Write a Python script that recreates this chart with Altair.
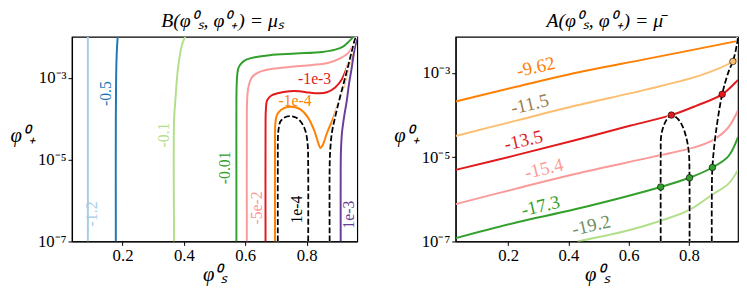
import altair as alt
import pandas as pd

FONT = "Liberation Serif"

# ---------------- shared ticks ----------------
X_TICKS = [0.2, 0.4, 0.6, 0.8]
Y_TICK_EXP = [-7, -5, -3]
Y_TICK_LABELS = ["10⁻⁷", "10⁻⁵", "10⁻³"]

# ---------------- left panel: B(phi_s, phi_+) = mu_s ----------------
L_XDOM = [0.035, 0.965]
L_YDOM = [1e-7, 1e-2]

b_m12_x = [0.087, 0.087]
b_m12_y = [1e-7, 1e-2]
b_m05_x = [0.178, 0.178, 0.179, 0.181, 0.184]
b_m05_y = [1e-7, 1e-4, 1e-3, 4e-3, 1e-2]
b_m01_x = [0.368, 0.368, 0.372, 0.381, 0.394, 0.404]
b_m01_y = [1e-7, 1e-4, 2.8e-4, 1.8e-3, 6.5e-3, 1e-2]
b_m001_x = [0.571, 0.571, 0.571, 0.572, 0.574, 0.578, 0.589, 0.605, 0.632, 0.680,
            0.765, 0.851, 0.893, 0.920, 0.938, 0.952]
b_m001_y = [1e-7, 7e-6, 2.8e-4, 7e-4, 1.22e-3, 1.77e-3, 2.33e-3, 2.8e-3, 3.18e-3, 3.56e-3,
            3.9e-3, 4.28e-3, 4.87e-3, 5.86e-3, 7.73e-3, 1e-2]
b_m5e2_x = [0.605, 0.605, 0.606, 0.610, 0.621, 0.642, 0.680, 0.744, 0.818, 0.872,
            0.909, 0.936, 0.952, 0.959, 0.962]
b_m5e2_y = [1e-7, 4.4e-5, 2.8e-4, 5.8e-4, 1.01e-3, 1.34e-3, 1.61e-3, 1.83e-3, 2.05e-3, 2.33e-3,
            2.96e-3, 4.05e-3, 6.4e-3, 9.3e-3, 1e-2]
b_m1e3_x = [0.666, 0.666, 0.667, 0.671, 0.685, 0.706, 0.744, 0.776, 0.808, 0.840,
            0.866, 0.893, 0.915, 0.931, 0.947, 0.959, 0.964]
b_m1e3_y = [1e-7, 4.4e-5, 1.6e-4, 2.8e-4, 3.68e-4, 4.19e-4, 4.68e-4, 4.68e-4, 4.35e-4, 4.19e-4,
            4.43e-4, 5.8e-4, 9.2e-4, 1.77e-3, 3.7e-3, 7e-3, 1e-2]
b_m1e4_x = [0.697, 0.697, 0.698, 0.703, 0.717, 0.738, 0.760, 0.781, 0.803, 0.824,
            0.838, 0.845, 0.853, 0.866, 0.888, 0.906, 0.923, 0.936, 0.952, 0.963]
b_m1e4_y = [1e-7, 4.4e-5, 7.7e-5, 1.22e-4, 1.66e-4, 1.93e-4, 1.93e-4, 1.66e-4, 1.11e-4, 5.3e-5,
            2.53e-5, 1.92e-5, 2.31e-5, 4.4e-5, 1.11e-4, 2.8e-4, 7e-4, 1.77e-3, 4.4e-3, 9.3e-3]
b_p1e3_x = [0.911, 0.911, 0.912, 0.915, 0.922, 0.931, 0.938, 0.947, 0.955, 0.964]
b_p1e3_y = [1e-7, 7e-6, 1.75e-5, 4.4e-5, 1.11e-4, 2.8e-4, 7e-4, 1.77e-3, 4.4e-3, 9.3e-3]
b_arch_x = [0.706, 0.706, 0.707, 0.710, 0.714, 0.728, 0.749, 0.765, 0.781, 0.795, 0.803, 0.805, 0.805]
b_arch_y = [1e-7, 7e-6, 4.4e-5, 6.4e-5, 8.4e-5, 1.07e-4, 1.15e-4, 1.07e-4, 8.4e-5, 5.3e-5, 2.53e-5, 7e-6, 1e-7]
b_branch_x = [0.875, 0.875, 0.877, 0.882, 0.893, 0.906, 0.920, 0.934, 0.947, 0.959, 0.963]
b_branch_y = [1e-7, 7e-6, 1.75e-5, 4.4e-5, 1.11e-4, 2.8e-4, 7e-4, 1.77e-3, 4.4e-3, 9.3e-3, 1e-2]

L_SOLID = [
    ("-1.2", "#a6cee3", b_m12_x, b_m12_y),
    ("-0.5", "#1f78b4", b_m05_x, b_m05_y),
    ("-0.1", "#b2df8a", b_m01_x, b_m01_y),
    ("-0.01", "#33a02c", b_m001_x, b_m001_y),
    ("-5e-2", "#fb9a99", b_m5e2_x, b_m5e2_y),
    ("-1e-3", "#e31a1c", b_m1e3_x, b_m1e3_y),
    ("-1e-4", "#ff7f00", b_m1e4_x, b_m1e4_y),
    ("1e-3", "#6a3d9a", b_p1e3_x, b_p1e3_y),
]
L_DASHED = [("arch", "black", b_arch_x, b_arch_y), ("branch", "black", b_branch_x, b_branch_y)]

L_LAB_TEXT = ["-1.2", "-0.5", "-0.1", "-0.01", "-5e-2", "-1e-3", "-1e-4", "1e-4", "1e-3"]
L_LAB_X = [0.102, 0.145, 0.334, 0.535, 0.637, 0.826, 0.762, 0.768, 0.938]
L_LAB_Y = [4.7e-7, 4.1e-4, 4.0e-5, 6.3e-6, 6.6e-7, 9.3e-4, 2.7e-4, 6.0e-7, 4.5e-7]
L_LAB_ANGLE = [270, 270, 270, 270, 270, 0, 0, 270, 270]
L_LAB_COLOR = ["#a6cee3", "#1f78b4", "#b2df8a", "#33a02c", "#fb9a99", "#e31a1c", "#ff7f00", "#000000", "#6a3d9a"]

# ---------------- right panel: A(phi_s, phi_+) = mu_bar ----------------
R_XDOM = [0.026, 0.963]
R_YDOM = [1e-7, 7.2e-3]

a_962_x = [0.026, 0.227, 0.422, 0.661, 0.959, 0.963]
a_962_y = [2.1e-4, 4.7e-4, 1.0e-3, 2.16e-3, 5.7e-3, 5.8e-3]
a_115_x = [0.026, 0.227, 0.422, 0.661, 0.845, 0.946, 0.958]
a_115_y = [3.2e-5, 7.4e-5, 1.66e-4, 4.07e-4, 9.1e-4, 1.87e-3, 2.2e-3]
a_135_x = [0.026, 0.227, 0.422, 0.607, 0.742, 0.824, 0.9105, 0.959, 0.963]
a_135_y = [5.0e-6, 1.12e-5, 2.52e-5, 5.65e-5, 1.0e-4, 1.66e-4, 3.11e-4, 6.4e-4, 6.9e-4]
a_154_x = [0.026, 0.227, 0.422, 0.683, 0.824, 0.878, 0.930, 0.963]
a_154_y = [7.7e-7, 1.8e-6, 4.0e-6, 1.03e-5, 1.76e-5, 2.5e-5, 5.0e-5, 1.3e-4]
a_173_x = [0.026, 0.227, 0.422, 0.7065, 0.802, 0.878, 0.930, 0.963]
a_173_y = [1.2e-7, 2.83e-7, 5.8e-7, 1.97e-6, 3.25e-6, 5.7e-6, 1.03e-5, 3.0e-5]
a_192_x = [0.430, 0.607, 0.7065, 0.802, 0.878, 0.930, 0.963]
a_192_y = [1.0e-7, 1.9e-7, 3.1e-7, 5.6e-7, 1.3e-6, 2.3e-6, 5.0e-6]
a_arch_x = [0.7065, 0.7065, 0.7076, 0.715, 0.726, 0.742, 0.758, 0.775, 0.791, 0.800, 0.802, 0.8021]
a_arch_y = [1e-7, 1.23e-5, 3.0e-5, 5.2e-5, 7.7e-5, 1.0e-4, 8.8e-5, 6.2e-5, 3.0e-5, 1.23e-5, 3.25e-6, 1e-7]
a_branch_x = [0.876, 0.876, 0.878, 0.889, 0.9105, 0.932, 0.946, 0.959, 0.963]
a_branch_y = [1e-7, 1e-6, 5.7e-6, 3.6e-5, 3.11e-4, 1.09e-3, 1.87e-3, 4.6e-3, 7.2e-3]

R_SOLID = [
    ("-9.62", "#ff7f00", a_962_x, a_962_y),
    ("-11.5", "#fdbf6f", a_115_x, a_115_y),
    ("-13.5", "#e31a1c", a_135_x, a_135_y),
    ("-15.4", "#fb9a99", a_154_x, a_154_y),
    ("-17.3", "#33a02c", a_173_x, a_173_y),
    ("-19.2", "#b2df8a", a_192_x, a_192_y),
]
R_DASHED = [("arch", "black", a_arch_x, a_arch_y), ("branch", "black", a_branch_x, a_branch_y)]

R_MARK_X = [0.946, 0.9105, 0.742, 0.7065, 0.802, 0.878]
R_MARK_Y = [1.87e-3, 3.11e-4, 1.0e-4, 1.97e-6, 3.25e-6, 5.7e-6]
R_MARK_COLOR = ["#fdbf6f", "#e31a1c", "#e31a1c", "#33a02c", "#33a02c", "#33a02c"]

R_LAB_TEXT = ["-9.62", "-11.5", "-13.5", "-15.4", "-17.3", "-19.2"]
R_LAB_X = [0.292, 0.272, 0.251, 0.319, 0.308, 0.476]
R_LAB_Y = [1.38e-3, 1.8e-4, 2.5e-5, 5.3e-6, 6.9e-7, 2.4e-7]
R_LAB_ANGLE = [347, 347, 347, 347, 347, 347]
R_LAB_COLOR = ["#ff7f00", "#9a7b4f", "#e31a1c", "#fb9a99", "#33a02c", "#6b8f5e"]


def lines_df(specs):
    rows = []
    for name, color, xs, ys in specs:
        for i, (x, y) in enumerate(zip(xs, ys)):
            rows.append({"id": name, "color": color, "order": i, "x": x, "y": y})
    return pd.DataFrame(rows)


Y_LABEL_EXPR = "".join(
    f"round(log(datum.value)/LN10) == {e} ? '{lab}' : " for e, lab in zip(Y_TICK_EXP, Y_TICK_LABELS)
) + "''"


def panel(title, xdom, ydom, width, solid, dashed, lab, lab_size, markers=None):
    xe = alt.X("x:Q", scale=alt.Scale(domain=xdom, nice=False, zero=False),
               axis=alt.Axis(values=X_TICKS, format=".1f", title="φ⁰ₛ"))
    ye = alt.Y("y:Q", scale=alt.Scale(type="log", domain=ydom, nice=False),
               axis=alt.Axis(values=[10.0 ** e for e in Y_TICK_EXP], labelExpr=Y_LABEL_EXPR,
                             title="φ⁰₊", titleAngle=0, titleX=-50, titleY=100,
                             titleAlign="center", titleBaseline="middle"))
    col = alt.Color("color:N", scale=None)
    layers = [
        alt.Chart(lines_df(solid)).mark_line(strokeWidth=2, clip=True, interpolate="catmull-rom")
        .encode(x=xe, y=ye, color=col, detail="id:N", order="order:Q"),
        alt.Chart(lines_df(dashed)).mark_line(color="white", strokeWidth=3, clip=True, interpolate="catmull-rom")
        .encode(x=xe, y=ye, detail="id:N", order="order:Q"),
        alt.Chart(lines_df(dashed)).mark_line(color="black", strokeWidth=1.8, strokeDash=[6, 2.5], clip=True,
                                              interpolate="catmull-rom")
        .encode(x=xe, y=ye, detail="id:N", order="order:Q"),
    ]
    if markers is not None:
        layers.append(
            alt.Chart(markers).mark_circle(size=45, opacity=1, stroke="black", strokeWidth=0.6)
            .encode(x=xe, y=ye, color=col)
        )
    layers.append(
        alt.Chart(lab).mark_text(font=FONT, fontSize=lab_size)
        .encode(x=xe, y=ye, text="text:N", color=col, angle=alt.Angle("angle:Q", scale=None))
    )
    return alt.layer(*layers).properties(
        width=width, height=208,
        title=alt.TitleParams(title, anchor="middle", dx=8),
    )


left_lab = pd.DataFrame({"x": L_LAB_X, "y": L_LAB_Y, "text": L_LAB_TEXT, "angle": L_LAB_ANGLE, "color": L_LAB_COLOR})
right_lab = pd.DataFrame({"x": R_LAB_X, "y": R_LAB_Y, "text": R_LAB_TEXT, "angle": R_LAB_ANGLE, "color": R_LAB_COLOR})
right_mark = pd.DataFrame({"x": R_MARK_X, "y": R_MARK_Y, "color": R_MARK_COLOR})

left = panel("B(φ⁰ₛ, φ⁰₊) = μₛ", L_XDOM, L_YDOM, 290, L_SOLID, L_DASHED, left_lab, 16)
right = panel("A(φ⁰ₛ, φ⁰₊) = μ̄", R_XDOM, R_YDOM, 287, R_SOLID, R_DASHED, right_lab, 19, right_mark)

chart = (
    alt.hconcat(left, right, spacing=35)
    .properties(padding={"left": 1, "top": 0, "right": 0, "bottom": 0})
    .configure_view(stroke="black", strokeWidth=1.2)
    .configure_axis(
        labelFont=FONT, labelFontSize=17, labelColor="black", labelPadding=2,
        labelFlush=False, labelOverlap=False,
        titleFont=FONT, titleFontSize=21, titleFontWeight="normal", titleFontStyle="italic", titleColor="black",
        tickColor="black", tickSize=4, tickWidth=1, domainColor="black", domainWidth=1.2, grid=False,
    )
    .configure_axisX(titlePadding=1)
    .configure_title(font=FONT, fontSize=20, fontWeight="normal", fontStyle="italic", color="black", offset=6)
)

chart.save("out.html", embed_options={"renderer": "svg", "actions": False})
